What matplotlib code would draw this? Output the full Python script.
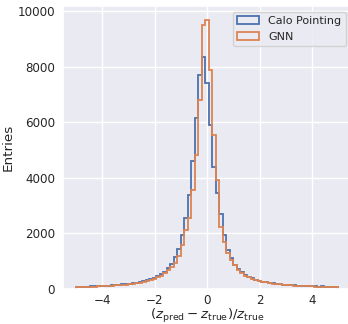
import numpy as np
import matplotlib
matplotlib.use("Agg")
import matplotlib.pyplot as plt
import seaborn as sns

# 75 bins between -5 and 5
bin_edges = np.linspace(-5, 5, 76)

calo_counts = [
    70, 75, 80, 85, 95, 100, 105, 110, 120, 125,
    135, 140, 150, 165, 180, 190, 210, 230, 255, 280,
    310, 350, 400, 460, 530, 620, 740, 900, 1150, 1450,
    1950, 2550, 3400, 4600, 6150, 7700, 8350, 7400, 5900, 4400,
    3450, 2700, 1950, 1400, 1120, 870, 720, 600, 500, 430,
    380, 340, 300, 270, 240, 225, 200, 185, 170, 160,
    150, 140, 135, 120, 115, 110, 100, 105, 95, 90,
    95, 85, 80, 75, 70,
]
gnn_counts = [
    60, 65, 70, 75, 80, 90, 95, 100, 105, 115,
    120, 130, 140, 150, 160, 175, 190, 210, 230, 260,
    290, 320, 370, 420, 480, 560, 680, 800, 950, 1200,
    1600, 2130, 2560, 3570, 4840, 6820, 9500, 9700, 7870, 5560,
    3930, 2250, 1700, 1300, 1050, 850, 700, 580, 480, 420,
    370, 330, 290, 260, 235, 215, 195, 180, 165, 155,
    145, 135, 125, 120, 110, 105, 100, 95, 90, 85,
    80, 80, 75, 70, 65,
]

bin_centers = 0.5 * (bin_edges[:-1] + bin_edges[1:])

sns.set_theme(style="darkgrid")

fig = plt.figure(figsize=(3.48, 3.24), dpi=100)
ax = fig.add_axes([0.18, 0.108, 0.83, 0.873])

ax.hist(bin_centers, bins=bin_edges, weights=calo_counts, histtype="step",
        linewidth=1.3, color="#4C72B0", label="Calo Pointing")
ax.hist(bin_centers, bins=bin_edges, weights=gnn_counts, histtype="step",
        linewidth=1.3, color="#DD8452", label="GNN")

ax.set_xlabel(r"$(z_{\rm pred} - z_{\rm true})/z_{\rm true}$", fontsize=9.6, labelpad=0)
ax.set_ylabel("Entries", fontsize=9.7, labelpad=2)
ax.tick_params(axis="x", labelsize=8.6, length=0, pad=3.5)
ax.tick_params(axis="y", labelsize=8.6, length=0, pad=5.5)
ax.set_xticks([-4, -2, 0, 2, 4])
ax.set_yticks([0, 2000, 4000, 6000, 8000, 10000])
ax.legend(loc="upper right", fontsize=8)

fig.savefig("out.png", dpi=100)
